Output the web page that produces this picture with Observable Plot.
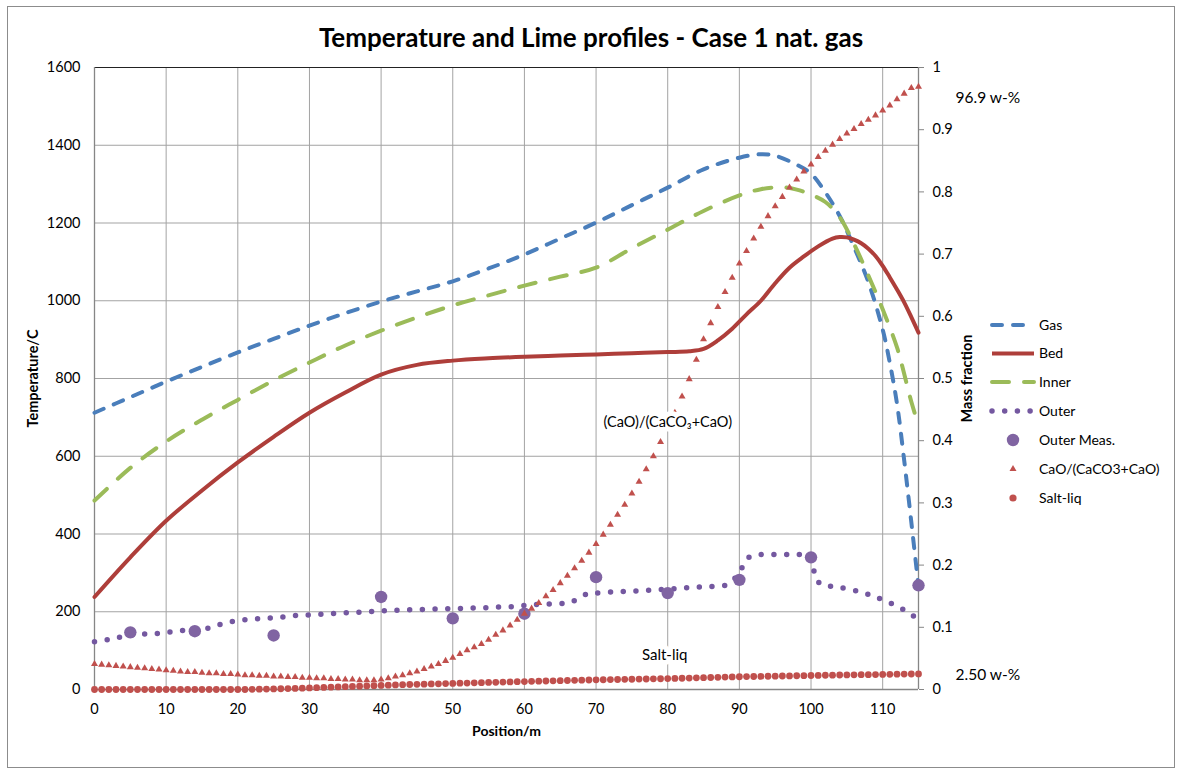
<!DOCTYPE html>
<html><head><meta charset="utf-8">
<script src="https://cdn.jsdelivr.net/npm/d3@7"></script>
<script src="https://cdn.jsdelivr.net/npm/@observablehq/plot@0.6"></script>
<style>
body{margin:0;background:#fff;font-family:Lato,"Open Sans",sans-serif;}
#wrap{position:relative;width:1177px;height:768px;overflow:hidden;background:#fff;}
#chart{position:absolute;left:0;top:0;}
#border{position:absolute;left:7px;top:6px;width:1168px;height:762px;border:1px solid #8c8c8c;box-sizing:border-box;pointer-events:none;}
#title{position:absolute;left:0;width:1182px;top:21px;text-align:center;font-weight:bold;font-size:26px;color:#000;}
#legend{position:absolute;left:0;top:0;}
</style></head>
<body>
<div id="wrap"><div id="chart"></div><div id="border"></div>
<div id="title">Temperature and Lime profiles - Case 1 nat. gas</div>
<svg id="legend" width="1177" height="768"></svg></div>
<script>
// ---- data ----
const xTicks = [0,10,20,30,40,50,60,70,80,90,100,110];
const yTicks = [0,200,400,600,800,1000,1200,1400,1600];
const fracTicks = [0,0.1,0.2,0.3,0.4,0.5,0.6,0.7,0.8,0.9,1];

const gasPos  = [0,5,10,15,20,25,30,35,40,45,50,55,60,65,70,75,80,85,90,93,95,98,100,102,104,106,108,110,111,112,113,114,115];
const gasTemp = [712,752,792,830,867,902,936,968,998,1024,1050,1083,1119,1160,1201,1246,1291,1338,1368,1377,1373,1350,1327,1279,1218,1138,1048,926,840,735,590,430,265];

const bedPos  = [0,5,10,15,20,25,30,35,40,45,50,55,60,65,70,75,80,83,85,87,89,91,93,95,97,99,101,103,104,105,106,107,108,109,110,111,112,113,114,115];
const bedTemp = [238,340,434,512,584,650,712,764,810,835,846,852,856,859,862,865,868,870,876,898,928,965,1000,1045,1085,1114,1140,1160,1164,1163,1157,1148,1134,1115,1090,1060,1029,996,958,918];

const innerPos  = [0,5,10,15,20,25,30,35,40,45,50,55,60,65,70,75,80,85,90,93,96,98,100,102,104,106,108,110,112,113,114,115];
const innerTemp = [486,570,638,694,745,795,841,885,923,957,988,1014,1039,1062,1085,1135,1183,1231,1271,1287,1292,1286,1273,1254,1215,1146,1065,978,880,812,740,680];

const outerPos  = [0,2,4,6,8,10,12,14,16,18,20,22,24,26,28,30,32,34,36,38,40,42,44,46,48,50,52,54,56,58,60,62,64,66,67,68,69,70,72,74,76,78,80,82,84,86,88,89,90,91,92,94,96,98,99.5,100.2,100.6,101.4,103,105,107,108.5,110,112,113.5,115];
const outerTemp = [123,129,136,142,143,147,151,154,158,170,177,181,183,186,190,192,194,196,198,200,202,204,205,206,207,208,209,210,212,213,216,219,220,223,229,240,247,248,251,252,254,256,258,261,263,265,268,280,300,335,345,347,347,347,345,323,291,270,265,259,250,242,231,214,199,180];

const measPos  = [5,14,25,40,50,60,70,80,90,100,115];
const measTemp = [147,150,139,238,183,195,289,248,282,340,268];

const samplePos = [0,1,2,3,4,5,6,7,8,9,10,11,12,13,14,15,16,17,18,19,20,21,22,23,24,25,26,27,28,29,30,31,32,33,34,35,36,37,38,39,40,41,42,43,44,45,46,47,48,49,50,51,52,53,54,55,56,57,58,59,60,61,62,63,64,65,66,67,68,69,70,71,72,73,74,75,76,77,78,79,80,81,82,83,84,85,86,87,88,89,90,91,92,93,94,95,96,97,98,99,100,101,102,103,104,105,106,107,108,109,110,111,112,113,114,115];
const caoFrac = [
0.041,0.040,0.039,0.038,0.037,0.036,0.035,0.034,0.033,0.032,
0.031,0.030,0.029,0.028,0.028,0.027,0.026,0.026,0.025,0.025,
0.024,0.023,0.023,0.022,0.022,0.021,0.021,0.020,0.020,0.019,
0.019,0.018,0.018,0.017,0.017,0.016,0.016,0.015,0.015,0.015,
0.016,0.018,0.021,0.023,0.026,0.029,0.033,0.037,0.041,0.046,
0.051,0.057,0.063,0.068,0.073,0.080,0.088,0.095,0.103,0.112,
0.122,0.130,0.139,0.150,0.160,0.171,0.183,0.195,0.207,0.220,
0.234,0.249,0.265,0.281,0.297,0.315,0.334,0.354,0.375,0.398,
0.420,0.445,0.471,0.499,0.530,0.563,0.589,0.615,0.639,0.662,
0.685,0.705,0.725,0.744,0.761,0.777,0.792,0.807,0.820,0.833,
0.844,0.856,0.866,0.876,0.885,0.894,0.901,0.909,0.916,0.923,
0.931,0.939,0.949,0.958,0.967,0.969];
const saltFrac = [
0,0,0,0,0,0,0,0,0,0,
0,0,0,0,0,0,0,0,0,0,
0,0,0.0003,0.0005,0.0007,0.001,0.0012,0.0015,0.0018,0.0022,
0.0026,0.003,0.0034,0.0038,0.0042,0.0046,0.005,0.0054,0.0058,0.0062,
0.0066,0.007,0.0074,0.0077,0.008,0.0083,0.0086,0.0089,0.0092,0.0095,
0.0098,0.0101,0.0104,0.0107,0.011,0.0113,0.0116,0.0119,0.0122,0.0125,
0.0128,0.0131,0.0134,0.0137,0.014,0.0142,0.0145,0.0148,0.015,0.0153,
0.0155,0.0157,0.0159,0.0161,0.0163,0.0165,0.0167,0.0169,0.0171,0.0173,
0.0175,0.0178,0.0181,0.0184,0.0187,0.019,0.0193,0.0196,0.0199,0.0202,
0.0205,0.0207,0.0209,0.0211,0.0213,0.0215,0.0217,0.0219,0.0221,0.0223,
0.0225,0.0227,0.0229,0.0231,0.0233,0.0235,0.0236,0.0238,0.0239,0.024,
0.0242,0.0244,0.0246,0.0248,0.0249,0.025];

const seriesNames = ["Gas","Bed","Inner","Outer","Outer Meas.","CaO/(CaCO3+CaO)","Salt-liq"];
const colors = {gas:"#4A7EBB", bed:"#AE3E3A", inner:"#9BBB59", outer:"#7458A0", meas:"#8064A2", cao:"#C0504D", salt:"#C0504D"};

// ---- build tables ----
const TMAX = 1600; // right axis fraction 1 == left 1600
const zip = (xs, ys) => xs.map((x,i)=>({x, y: ys[i]}));
const gas = zip(gasPos, gasTemp), bed = zip(bedPos, bedTemp), inner = zip(innerPos, innerTemp);
const outer = zip(outerPos, outerTemp), meas = zip(measPos, measTemp);
const cao = samplePos.map((x,i)=>({x, f: caoFrac[i]}));
const salt = samplePos.map((x,i)=>({x, f: saltFrac[i]}));
const caoLast = cao[cao.length-1], saltLast = salt[salt.length-1];
const caoLabelPt = cao.find(d=>d.x===80), saltLabelPt = salt.find(d=>d.x===80);

const font = "Lato, 'Open Sans', sans-serif";
const chart = Plot.plot({
  width:1177, height:768, marginLeft:94, marginRight:259, marginTop:67, marginBottom:79,
  style:{fontFamily:font, fontSize:"14px", color:"#000", background:"transparent", overflow:"visible"},
  x:{domain:[0,115]}, y:{domain:[0,1600]},
  marks:[
    Plot.gridX(xTicks, {stroke:"#a3a3a3", strokeOpacity:1}),
    Plot.gridY(yTicks, {stroke:"#a3a3a3", strokeOpacity:1}),
    Plot.ruleY([1600], {stroke:"#222", strokeWidth:1}),
    Plot.ruleX([0], {stroke:"#868686", strokeWidth:1.3}),
    Plot.ruleX([115], {stroke:"#868686", strokeWidth:1.3}),
    Plot.ruleY([0], {stroke:"#868686", strokeWidth:1.3}),
    Plot.axisX(xTicks, {tickSize:0, tickPadding:14, label:null, fontSize:14.5}),
    Plot.axisY(yTicks, {tickSize:0, tickPadding:14, label:null, fontSize:14.5, tickFormat:d=>String(d)}),
    Plot.axisY(fracTicks.map(f=>f*TMAX), {anchor:"right", tickSize:5, tickPadding:9, label:null, fontSize:14.5,
      stroke:"#868686", tickFormat: d => String(+(d/TMAX).toFixed(1))}),
    Plot.text(["Position/m"], {text:d=>d, frameAnchor:"bottom", dy:46, fontWeight:"bold", fontSize:14}),
    Plot.text(["Temperature/C"], {text:d=>d, frameAnchor:"left", textAnchor:"middle", dx:-61, rotate:-90, fontWeight:"bold", fontSize:14.5}),
    Plot.text(["Mass fraction"], {text:d=>d, frameAnchor:"right", textAnchor:"middle", dx:49, rotate:-90, fontWeight:"bold", fontSize:14.5}),
    Plot.line(gas, {x:"x", y:"y", stroke:colors.gas, strokeWidth:4, strokeDasharray:"10 11", strokeLinecap:"round", curve:"catmull-rom"}),
    Plot.line(bed, {x:"x", y:"y", stroke:colors.bed, strokeWidth:4, curve:"catmull-rom"}),
    Plot.line(inner, {x:"x", y:"y", stroke:colors.inner, strokeWidth:4, strokeDasharray:"17 15", strokeLinecap:"round", curve:"catmull-rom"}),
    Plot.line(outer, {x:"x", y:"y", stroke:colors.outer, strokeWidth:5.5, strokeDasharray:"0 12.7", strokeLinecap:"round", curve:"catmull-rom"}),
    Plot.dot(meas, {x:"x", y:"y", r:6.2, fill:colors.meas, stroke:"none"}),
    Plot.dot(cao, {x:"x", y:d=>d.f*TMAX, symbol:"triangle", r:2.6, fill:colors.cao, stroke:"none"}),
    Plot.dot(salt, {x:"x", y:d=>d.f*TMAX, r:3.4, fill:colors.salt, stroke:"none"}),
    Plot.text([caoLabelPt], {x:"x", y:d=>d.f*TMAX, dy:-6, text:()=>"(CaO)/(CaCO\u2083+CaO)", fontSize:14.5, fill:"#000", stroke:"white", strokeWidth:10, strokeLinejoin:"round"}),
    Plot.text([saltLabelPt], {x:"x", y:d=>d.f*TMAX, dx:-3, dy:-23, text:()=>"Salt-liq", fontSize:15, fill:"#000", stroke:"white", strokeWidth:10, strokeLinejoin:"round"}),
    Plot.text([caoLast], {x:"x", y:d=>d.f*TMAX, dx:37, dy:11, textAnchor:"start", text:d=>(d.f*100).toFixed(1)+" w-%", fontSize:15.5}),
    Plot.text([saltLast], {x:"x", y:d=>d.f*TMAX, dx:37, dy:1, textAnchor:"start", text:d=>(d.f*100).toFixed(2)+" w-%", fontSize:15.5})
  ]
});
document.getElementById("chart").appendChild(chart);

// ---- legend ----
const lg = d3.select("#legend").style("font-family", font).style("font-size","14px");
const rows = [325, 353.5, 382, 411, 440, 469, 498];
const x0 = 992, x1 = 1034, xm = 1013, xt = 1039;
const items = [
  {name:seriesNames[0], type:"line", color:colors.gas, w:4, dash:"10 11"},
  {name:seriesNames[1], type:"line", color:colors.bed, w:4, dash:null},
  {name:seriesNames[2], type:"line", color:colors.inner, w:4, dash:"17 15"},
  {name:seriesNames[3], type:"line", color:colors.outer, w:5.5, dash:"0 12.7"},
  {name:seriesNames[4], type:"circle", color:colors.meas, r:6.2},
  {name:seriesNames[5], type:"triangle", color:colors.cao},
  {name:seriesNames[6], type:"circle", color:colors.salt, r:3.6}
];
items.forEach((it,i)=>{
  const y = rows[i];
  if (it.type==="line") {
    const l = lg.append("line").attr("x1",x0).attr("x2",x1).attr("y1",y).attr("y2",y)
      .attr("stroke",it.color).attr("stroke-width",it.w).attr("stroke-linecap", it.dash? "round":"butt");
    if (it.dash) l.attr("stroke-dasharray", it.dash);
  } else if (it.type==="circle") {
    lg.append("circle").attr("cx",xm).attr("cy",y).attr("r",it.r).attr("fill",it.color);
  } else {
    lg.append("path").attr("d", d3.symbol(d3.symbolTriangle, Math.PI*2.6*2.6)()).attr("transform",`translate(${xm},${y})`).attr("fill",it.color);
  }
  lg.append("text").attr("x",xt).attr("y",y).attr("dy","0.35em").text(it.name);
});
</script>
</body></html>
